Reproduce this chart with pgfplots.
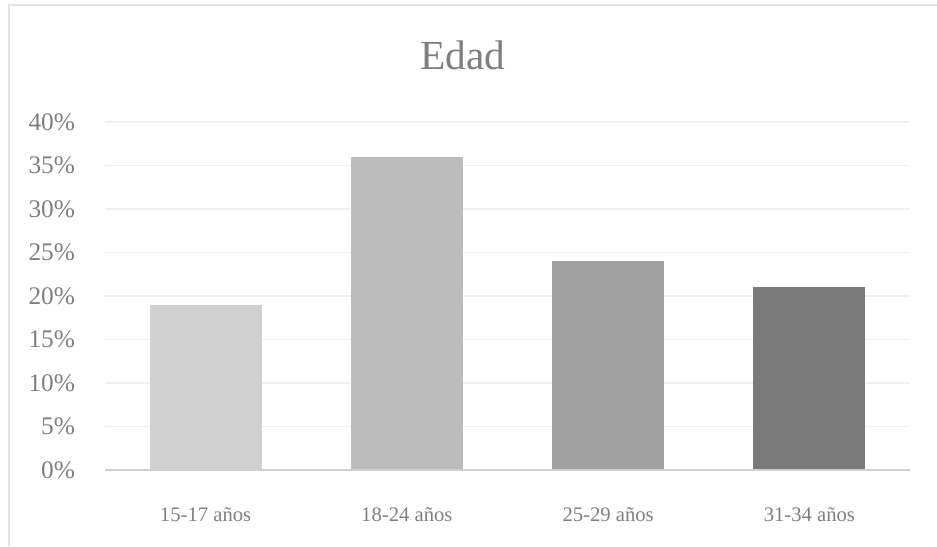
\documentclass[border=0pt]{standalone}
\usepackage{pgfplots}
\pgfplotsset{compat=1.18}
\usepackage{fontspec}
\setmainfont{Liberation Serif}
\definecolor{txt}{HTML}{7F7F7F}
\definecolor{gridc}{HTML}{EFEFEF}
\definecolor{axc}{HTML}{D0D0D0}
\definecolor{frame}{HTML}{E4E4E4}
\definecolor{c1}{HTML}{D0D0D0}
\definecolor{c2}{HTML}{BCBCBC}
\definecolor{c3}{HTML}{A0A0A0}
\definecolor{c4}{HTML}{7A7A7A}
\begin{document}
\begin{tikzpicture}
\path[use as bounding box] (0pt,0pt) rectangle (702.75pt,409.5pt);
\draw[frame,line width=1.5pt] (6.75pt,0pt) -- (6.75pt,405.4pt) -- (702.75pt,405.4pt);
\node[text=txt,font=\fontsize{31}{36}\selectfont] at (347.25pt,368pt) {Edad};
\begin{axis}[
  at={(78.75pt,57pt)}, anchor=south west,
  scale only axis, width=603.75pt, height=261pt,
  xmin=-0.5, xmax=3.5, ymin=0, ymax=40,
  xtick={0,1,2,3},
  xticklabels={15-17 años,18-24 años,25-29 años,31-34 años},
  ytick={0,5,...,40},
  yticklabel={\pgfmathprintnumber{\tick}\%},
  /pgf/number format/assume math mode=true,
  ymajorgrids, grid style={gridc,line width=0.8pt},
  axis line style={draw=none},
  axis x line*=bottom, axis y line*=left,
  major tick length=0pt,
  tick label style={text=txt},
  xticklabel style={font=\fontsize{15.5}{18}\selectfont,yshift=-25pt},
  yticklabel style={font=\fontsize{19}{22}\selectfont,xshift=-19pt},
  ybar, bar width=84pt, bar shift=0pt,
  clip=false,
]
\addplot[fill=c1,draw=none] coordinates {(0,19)};
\addplot[fill=c2,draw=none] coordinates {(1,36)};
\addplot[fill=c3,draw=none] coordinates {(2,24)};
\addplot[fill=c4,draw=none] coordinates {(3,21)};
\draw[axc,line width=1.5pt] (axis cs:-0.5,0) -- (axis cs:3.5,0);
\end{axis}
\end{tikzpicture}
\end{document}
